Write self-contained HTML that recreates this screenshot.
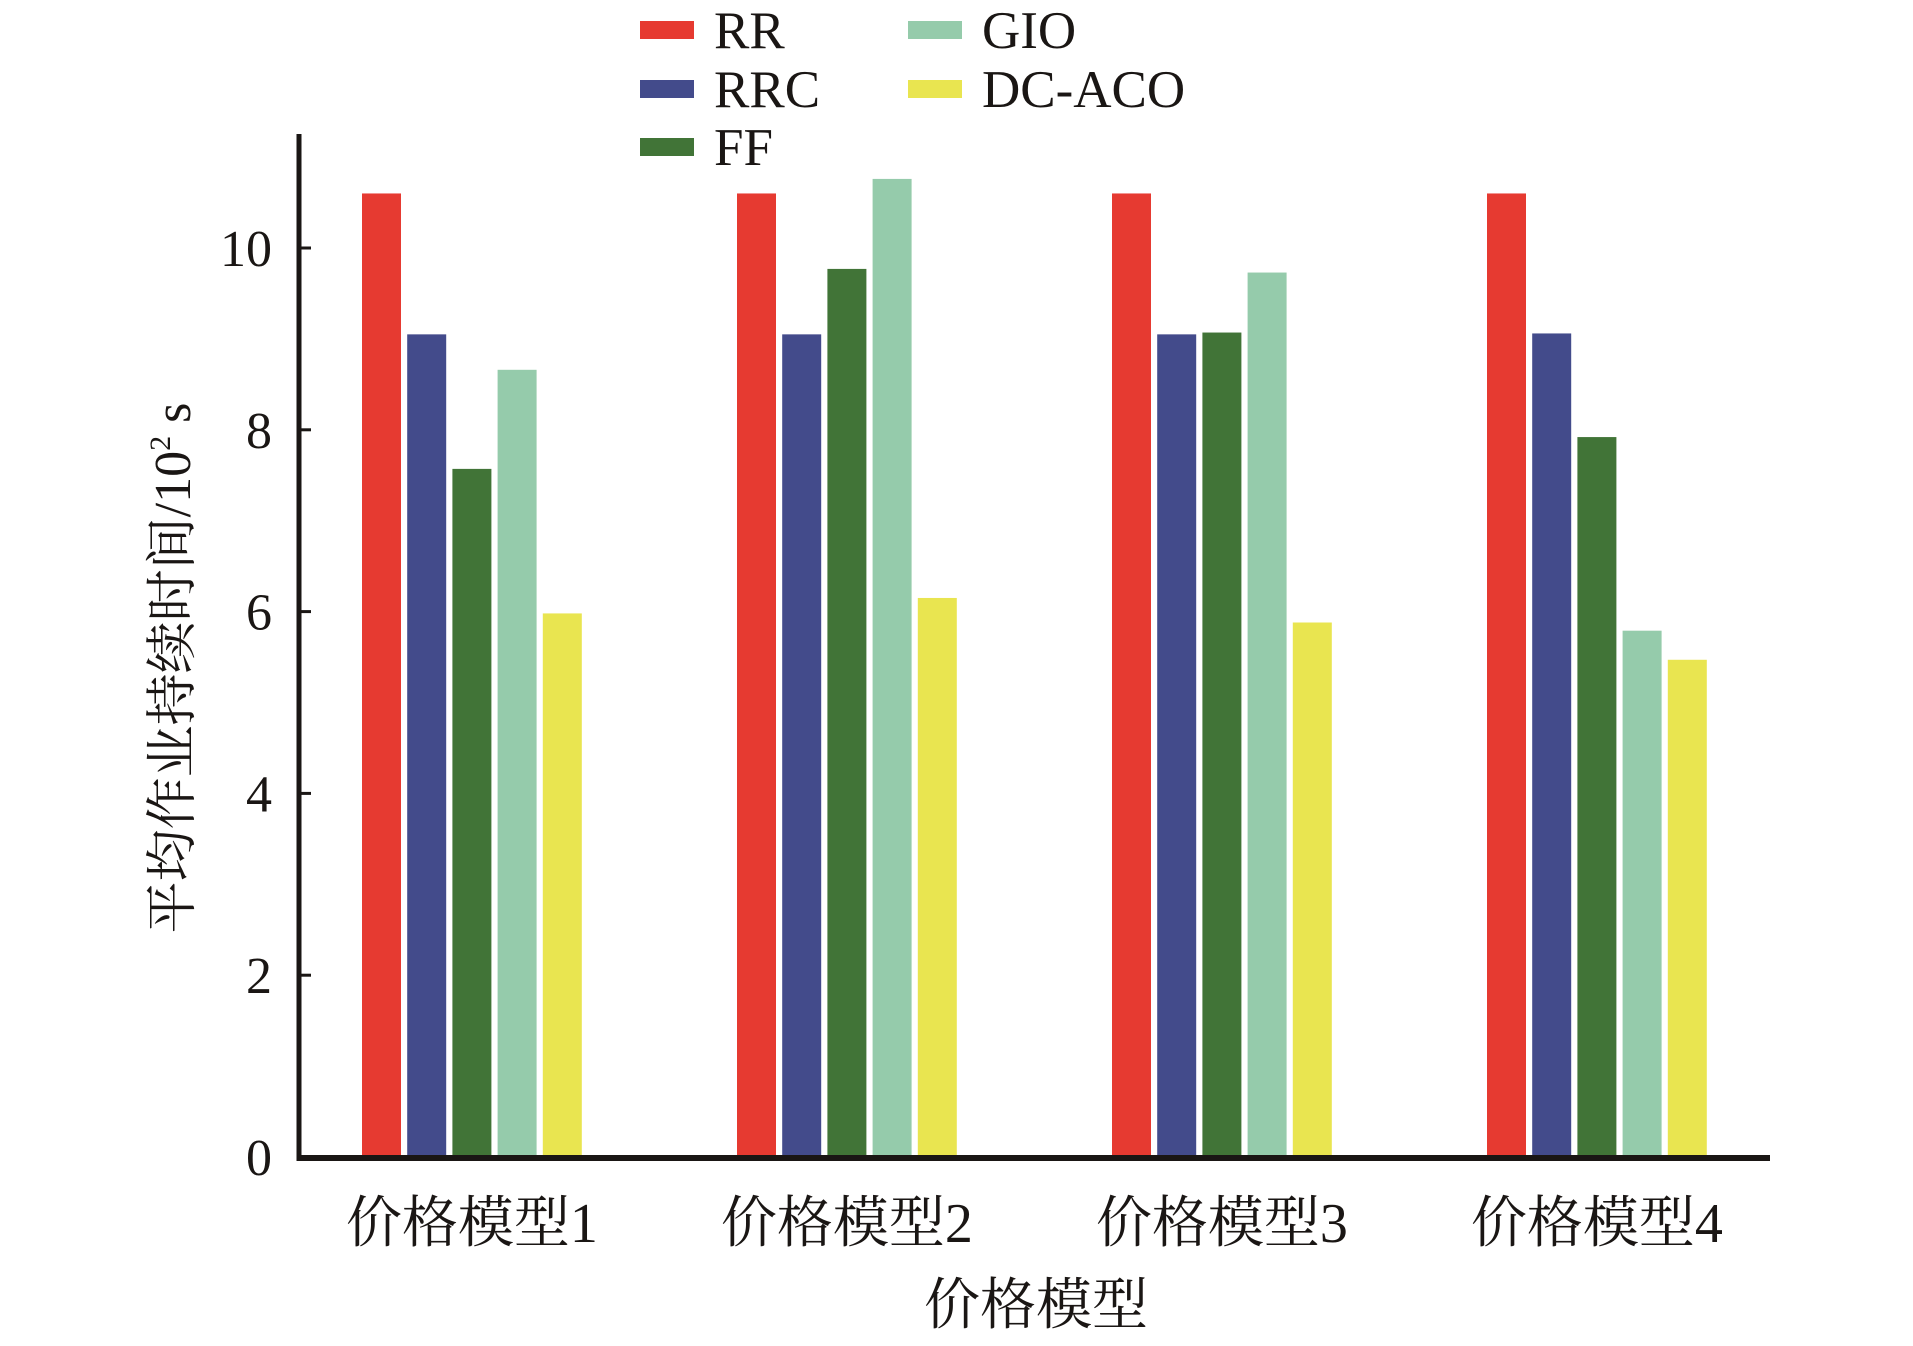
<!DOCTYPE html>
<html><head><meta charset="utf-8">
<style>
html,body{margin:0;padding:0;background:#fff;}
svg{display:block;}
text{font-family:"Liberation Serif","Noto Serif CJK SC",serif;fill:#1a1614;}
</style></head>
<body>
<svg id="chart" width="1913" height="1346" viewBox="0 0 1913 1346" xmlns="http://www.w3.org/2000/svg"></svg>
<script>
const categories = ["价格模型1","价格模型2","价格模型3","价格模型4"];
const seriesNames = ["RR","RRC","FF","GIO","DC-ACO"];
const seriesColors = ["#e63a31","#434b8b","#417437","#95cbab","#e9e550"];
const rrValues = [10.6,10.6,10.6,10.6];
const rrcValues = [9.05,9.05,9.05,9.06];
const ffValues = [7.57,9.77,9.07,7.92];
const gioValues = [8.66,10.76,9.73,5.79];
const dcacoValues = [5.98,6.15,5.88,5.47];
const yTicks = [0,2,4,6,8,10];

const seriesValues = [rrValues,rrcValues,ffValues,gioValues,dcacoValues];
const svg = document.getElementById('chart');
const NS = "http://www.w3.org/2000/svg";
const axX = 299, axY = 1158, y0 = 1157, y10 = 248, axTop = 134, axRight = 1770;
function yScale(v){ return y0 - (y0 - y10) * v / 10; }
const groupStart = 362, groupStep = 375, barStep = 45.2, barW = 39;
function xScale(ci, si){ return groupStart + ci*groupStep + si*barStep; }
function mk(tag, attrs){ const e=document.createElementNS(NS,tag); for(const k in attrs) e.setAttribute(k,attrs[k]); svg.appendChild(e); return e; }

for(let s=0;s<seriesValues.length;s++){
  for(let c=0;c<categories.length;c++){
    const v=seriesValues[s][c];
    const r=mk('rect',{x:xScale(c,s),y:yScale(v),width:barW,height:y0-yScale(v),fill:seriesColors[s]});
    
    
  }
}
const ya=mk('line',{x1:axX,y1:axTop,x2:axX,y2:axY+3,stroke:'#1a1614','stroke-width':5});


const xa=mk('line',{x1:axX-2.5,y1:axY,x2:axRight,y2:axY,stroke:'#1a1614','stroke-width':6});


for(const t of yTicks){
  const y=yScale(t);
  if(t>0){
    const tk=mk('line',{x1:axX,y1:y,x2:axX+12,y2:y,stroke:'#1a1614','stroke-width':3});
    
    
  }
  const tl=mk('text',{x:272,y:y+18,'font-size':52,'text-anchor':'end'});
  tl.textContent=t;
  
  
}
for(let c=0;c<categories.length;c++){
  const cx=xScale(c,0)+(4*barStep+barW)/2;
  const t=mk('text',{x:cx,y:1242,'font-size':56,'text-anchor':'middle'});
  t.textContent=categories[c];
  
  
}
const xt=mk('text',{x:1036,y:1324,'font-size':56,'text-anchor':'middle'});
xt.textContent='价格模型';


const yt=mk('text',{x:0,y:0,'font-size':52,'text-anchor':'middle',transform:'translate(190,668) rotate(-90)'});
yt.innerHTML='平均作业持续时间/10<tspan font-size="30" dy="-20">2</tspan><tspan dy="20"> s</tspan>';


const legPos=[[640,30],[640,89],[640,147],[908,30],[908,89]];
for(let s=0;s<seriesNames.length;s++){
  const [lx,ly]=legPos[s];
  const sw=mk('rect',{x:lx,y:ly-9,width:54,height:18,fill:seriesColors[s]});
  
  
  const lt=mk('text',{x:lx+74,y:ly+18,'font-size':53});
  lt.textContent=seriesNames[s];
  
  
}
</script>
</body></html>
